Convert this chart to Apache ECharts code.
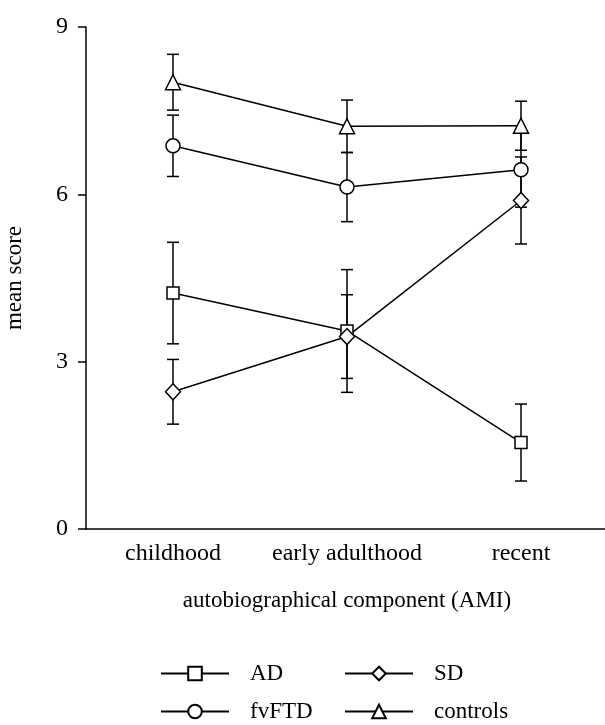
<!DOCTYPE html>
<html>
<head>
<meta charset="utf-8">
<script src="https://cdn.jsdelivr.net/npm/echarts@6/dist/echarts.min.js"></script>
<style>
  html, body { margin: 0; padding: 0; background: #fff; }
  #chart { width: 605px; height: 725px; }
</style>
</head>
<body>
<div id="chart"></div>
<script>
// categories and tick labels
var categories = ["childhood", "early adulthood", "recent"];
var yTicks = [0, 3, 6, 9];

// means
var adMean = [4.23, 3.55, 1.55];
var sdMean = [2.46, 3.45, 5.89];
var fvMean = [6.87, 6.13, 6.44];
var ctrlMean = [8.01, 7.22, 7.23];

// error bar half-lengths
var adErr = [0.91, 1.1, 0.69];
var sdErr = [0.58, 0.75, 0.78];
var fvErr = [0.55, 0.62, 0.67];
var ctrlErr = [0.5, 0.47, 0.44];

var font = "Liberation Serif";
var ink = "#000";

var chart = echarts.init(document.getElementById("chart"));

function errData(mean, err) {
  return mean.map(function (m, i) {
    return [i, m - err[i], m + err[i]];
  });
}

// whiskers with caps
function errSeries(mean, err) {
  return {
    type: "custom",
    silent: true,
    z: 1,
    data: errData(mean, err),
    renderItem: function (params, api) {
      var lo = api.coord([api.value(0), api.value(1)]);
      var hi = api.coord([api.value(0), api.value(2)]);
      var cap = 6;
      var st = { stroke: ink, lineWidth: 1.5 };
      return {
        type: "group",
        children: [
          { type: "line", shape: { x1: lo[0], y1: lo[1], x2: hi[0], y2: hi[1] }, style: st },
          { type: "line", shape: { x1: lo[0] - cap, y1: lo[1], x2: lo[0] + cap, y2: lo[1] }, style: st },
          { type: "line", shape: { x1: hi[0] - cap, y1: hi[1], x2: hi[0] + cap, y2: hi[1] }, style: st }
        ]
      };
    }
  };
}

function lineSeries(name, mean, symbol, size) {
  return {
    type: "line",
    name: name,
    data: mean,
    z: 3,
    symbol: symbol,
    symbolSize: size,
    showAllSymbol: true,
    lineStyle: { color: ink, width: 1.5 },
    itemStyle: { color: "#fff", borderColor: ink, borderWidth: 1.5 },
    emphasis: { disabled: true }
  };
}

// one legend block per entry, laid out as 2 x 2
function legendItem(name, left, top) {
  return {
    data: [name],
    left: left,
    top: top,
    padding: 0,
    itemWidth: 68,
    itemHeight: 17,
    textStyle: {
      fontFamily: font,
      fontSize: 23,
      color: ink,
      padding: [0, 0, 0, 16]
    }
  };
}

var options = {
  animation: false,
  grid: {
    left: 86,
    top: 27,
    bottom: 196,
    width: 522,
    outerBoundsMode: "none",
    containLabel: false
  },
  xAxis: {
    type: "category",
    data: categories,
    boundaryGap: true,
    name: "autobiographical component (AMI)",
    nameLocation: "middle",
    nameGap: 60,
    nameTextStyle: { fontFamily: font, fontSize: 23, color: ink },
    axisLine: { lineStyle: { color: ink, width: 1.5 } },
    axisTick: { alignWithLabel: true, length: 8, lineStyle: { color: ink, width: 1.5 } },
    axisLabel: { interval: 0, fontFamily: font, fontSize: 24, color: ink, margin: 13 },
    splitLine: { show: false }
  },
  yAxis: {
    type: "value",
    min: yTicks[0],
    max: yTicks[yTicks.length - 1],
    interval: 3,
    name: "mean score",
    nameLocation: "middle",
    nameGap: 60,
    nameTextStyle: { fontFamily: font, fontSize: 23, color: ink },
    axisLine: { show: true, lineStyle: { color: ink, width: 1.5 } },
    axisTick: { show: true, length: 8, lineStyle: { color: ink, width: 1.5 } },
    axisLabel: { fontFamily: font, fontSize: 24, color: ink, margin: 18 },
    splitLine: { show: false }
  },
  legend: [
    legendItem("AD", 160, 662),
    legendItem("SD", 344, 662),
    legendItem("fvFTD", 160, 700),
    legendItem("controls", 344, 700)
  ],
  series: [
    errSeries(adMean, adErr),
    errSeries(sdMean, sdErr),
    errSeries(fvMean, fvErr),
    errSeries(ctrlMean, ctrlErr),
    lineSeries("AD", adMean, "rect", 12),
    lineSeries("SD", sdMean, "diamond", [15, 16]),
    lineSeries("fvFTD", fvMean, "circle", 14),
    lineSeries("controls", ctrlMean, "triangle", 15)
  ]
};

if (options && typeof options === "object") {
  chart.setOption(options, true);
}
window.onresize = function () {
  chart.resize();
};
</script>
</body>
</html>
